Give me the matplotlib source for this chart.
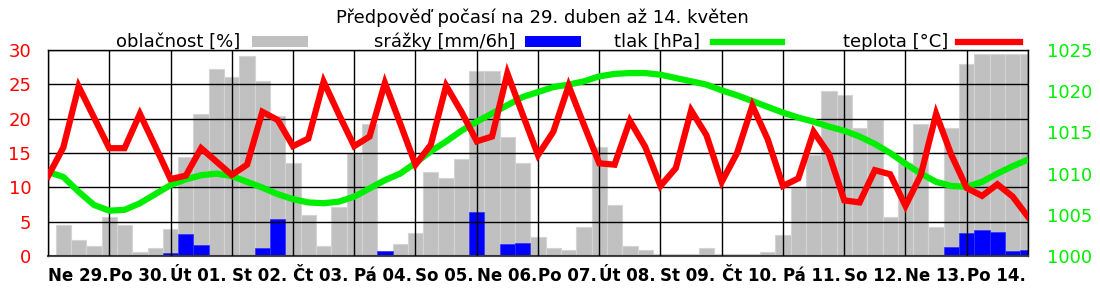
import numpy as np
import matplotlib
matplotlib.use("Agg")
import matplotlib.pyplot as plt
from matplotlib.patches import Rectangle
from matplotlib.lines import Line2D

# --- data -----------------------------------------------------------------
title = "Předpověď počasí na 29. duben až 14. květen"
day_labels = ["Ne 29.", "Po 30.", "Út 01.", "St 02.", "Čt 03.", "Pá 04.", "So 05.", "Ne 06.",
              "Po 07.", "Út 08.", "St 09.", "Čt 10.", "Pá 11.", "So 12.", "Ne 13.", "Po 14."]

# hours from start, every 6 h
t_points = np.arange(0, 385, 6)      # 65 points for temperature / pressure
t_bars = np.arange(6, 385, 6)        # 64 six-hour intervals (bars)

# oblačnost [%]
clouds = [15, 8, 5, 19, 15, 2, 4, 13,
          48, 69, 91, 87, 97, 85, 68, 45,
          20, 5, 24, 50, 64, 0, 6, 11,
          41, 38, 47, 90, 90, 58, 45, 9,
          4, 3, 14, 53, 25, 5, 3, 1,
          1, 1, 4, 1, 1, 1, 2, 10,
          33, 49, 80, 78, 62, 66, 19, 45,
          64, 14, 62, 93, 98, 98, 98, 98]

# srážky [mm/6h]
precip = [0, 0, 0, 0, 0, 0, 0, 0.4,
          3.2, 1.55, 0, 0.1, 0, 1.1, 5.45, 0,
          0, 0, 0, 0, 0, 0.78, 0, 0,
          0, 0, 0, 6.4, 0, 1.75, 1.95, 0,
          0.1, 0.1, 0, 0, 0, 0, 0, 0,
          0, 0, 0, 0, 0, 0, 0, 0,
          0, 0, 0.1, 0, 0, 0.1, 0, 0,
          0, 0, 1.26, 3.4, 3.8, 3.55, 0.68, 0.83]

# tlak [hPa]
pressure = [1010.2, 1009.6, 1007.8, 1006.2, 1005.5, 1005.6, 1006.4, 1007.5,
            1008.6, 1009.3, 1009.8, 1010.0, 1009.7, 1009.0, 1008.3, 1007.5,
            1006.9, 1006.5, 1006.4, 1006.6, 1007.2, 1008.2, 1009.2, 1010.0,
            1011.3, 1012.7, 1013.9, 1015.2, 1016.3, 1017.3, 1018.3, 1019.3,
            1019.9, 1020.5, 1020.8, 1021.2, 1021.8, 1022.1, 1022.2, 1022.2,
            1022.0, 1021.6, 1021.2, 1020.8, 1020.1, 1019.5, 1018.8, 1018.1,
            1017.4, 1016.8, 1016.3, 1015.7, 1015.2, 1014.5, 1013.6, 1012.5,
            1011.2, 1010.0, 1009.0, 1008.5, 1008.4, 1009.0, 1010.0, 1010.9,
            1011.7]

# teplota [°C]
temperature = [11.6, 15.8, 24.7, 20.2, 15.7, 15.7, 20.7, 16.0,
               11.2, 11.7, 15.7, 13.75, 11.8, 13.3, 21.0, 19.8,
               16.0, 17.1, 25.4, 20.6, 16.0, 17.4, 25.2, 19.3,
               13.3, 16.2, 24.8, 21.0, 16.7, 17.4, 26.6, 20.6,
               14.7, 18.1, 24.8, 19.1, 13.5, 13.3, 19.7, 15.9,
               10.2, 12.8, 21.2, 17.6, 10.8, 15.0, 21.9, 17.0,
               10.2, 11.3, 18.1, 14.85, 8.1, 7.8, 12.5, 11.9,
               7.3, 11.8, 20.7, 14.7, 9.9, 8.75, 10.45, 8.65,
               5.7]

legend_items = [("oblačnost [%]", "bar", "#c0c0c0"),
                ("srážky [mm/6h]", "bar", "#0000ff"),
                ("tlak [hPa]", "line", "#00ee00"),
                ("teplota [°C]", "line", "#ff0000")]

# --- plot -----------------------------------------------------------------
W, H = 1100, 300
fig = plt.figure(figsize=(W / 100, H / 100), dpi=100)
ax = fig.add_axes([48 / W, 1 - 256 / H, 980 / W, 206 / H])

cloud_scaled = np.array(clouds) * 0.3   # 100 % -> 30 on the left axis
ax.bar(t_bars, cloud_scaled, width=6, color="#c0c0c0", edgecolor="#d4d4d4", linewidth=0.8, zorder=1)
ax.bar(t_bars, precip, width=6, color="#0000ff", edgecolor="#3030ff", linewidth=0.5, zorder=1.5)

ax.set_xlim(0, 384)
ax.set_ylim(0, 30)
ax.set_yticks(np.arange(0, 31, 5))
ax.set_xticks(np.arange(0, 385, 24))
ax.set_xticklabels(day_labels + [""], ha="left", fontsize=12, fontweight="bold")
ax.tick_params(axis="x", length=0, pad=8)
ax.tick_params(axis="y", length=0, pad=12, labelsize=13, labelcolor="#ff0000")
ax.set_axisbelow(False)
ax.grid(True, color="black", linewidth=1.0)
for s in ax.spines.values():
    s.set_linewidth(1.0)
ax.spines["bottom"].set_color("#444444")
ax.spines["bottom"].set_linewidth(1.5)

ax_p = ax.twinx()
ax_p.plot(t_points, pressure, color="#00ee00", linewidth=4.5, solid_capstyle="butt", zorder=3)
ax_p.set_ylim(1000, 1025)
ax_p.set_yticks(np.arange(1000, 1026, 5))
ax_p.tick_params(axis="y", length=0, pad=14, labelsize=13, labelcolor="#00ee00")

ax_t = ax.twinx()
ax_t.plot(t_points, temperature, color="#ff0000", linewidth=4.5, solid_joinstyle="miter", zorder=4)
ax_t.set_ylim(0, 30)
ax_t.set_yticks([])
for a in (ax_p, ax_t):
    for s in a.spines.values():
        s.set_visible(False)

fig.text(542 / W, 1 - 18 / H, title, ha="center", va="center", fontsize=13)

# legend row drawn by hand (text then swatch)
text_right = [240, 515, 700, 948]
sw_left = [252, 525, 713, 958]
sw_w = [56, 56, 69, 62]
ly = 1 - 42 / H
for (lab, kind, col), tr, sl, sw in zip(legend_items, text_right, sw_left, sw_w):
    fig.text(tr / W, ly, lab, ha="right", va="center", fontsize=13)
    if kind == "bar":
        fig.add_artist(Rectangle((sl / W, 1 - 47 / H), sw / W, 11 / H, transform=fig.transFigure,
                                 facecolor=col, edgecolor="none"))
    else:
        fig.add_artist(Line2D([sl / W, (sl + sw) / W], [ly, ly], transform=fig.transFigure,
                              color=col, linewidth=4.5))

fig.savefig("out.png", dpi=100)
